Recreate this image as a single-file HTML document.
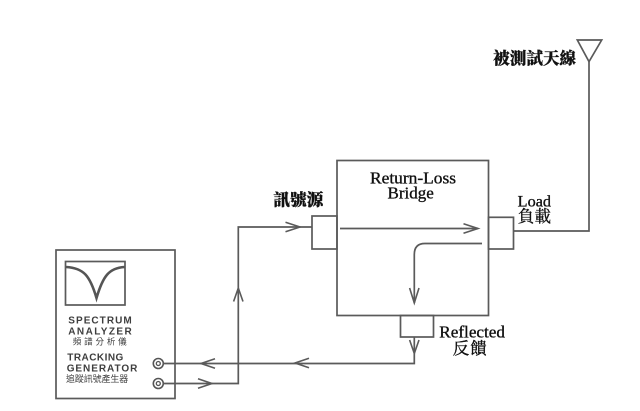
<!DOCTYPE html>
<html>
<head>
<meta charset="utf-8">
<style>
  html, body { margin:0; padding:0; background:#fff; }
  svg { display:block; }
  .ln { stroke:#5a5a5a; stroke-width:1.7; fill:none; }
  .ar { stroke:#5a5a5a; stroke-width:1.6; fill:none; stroke-linejoin:miter; }
  .lab { font-family:"Liberation Sans", sans-serif; font-weight:bold; fill:#3e3e3e; }
  .cjks { font-family:"Liberation Sans","Noto Sans CJK TC", sans-serif; fill:#3e3e3e; }
  .ser { font-family:"Liberation Serif","Noto Serif CJK SC", serif; fill:#111; stroke:#111; stroke-width:0.35; }
  .cjkb { font-family:"Liberation Serif","Noto Serif CJK SC","Noto Sans CJK TC", serif; font-weight:900; fill:#111; stroke:#111; stroke-width:0.3; }
  .cjk { font-family:"Liberation Serif","Noto Serif CJK SC","Noto Sans CJK TC", serif; fill:#111; stroke:#111; stroke-width:0.35; }
</style>
</head>
<body>
<svg width="640" height="411" viewBox="0 0 640 411" xmlns="http://www.w3.org/2000/svg">
  <!-- Spectrum analyzer box -->
  <rect class="ln" x="56" y="250" width="119" height="148.5"/>
  <!-- screen -->
  <rect class="ln" x="65.5" y="261.5" width="59.5" height="43.5"/>
  <path d="M66,267 C84,268 90,276 96.5,298 C103,276 109,268 124.5,267" stroke="#555" stroke-width="2.6" fill="none"/>

  <text class="lab" x="68.3" y="323.5" font-size="10" textLength="63.4" lengthAdjust="spacing">SPECTRUM</text>
  <text class="lab" x="68.3" y="334.5" font-size="10" textLength="63.4" lengthAdjust="spacing">ANALYZER</text>
  <text class="cjks" x="72.7" y="344.5" font-size="8.5" textLength="54" lengthAdjust="spacing">頻譜分析儀</text>
  <text class="lab" x="67.3" y="360.3" font-size="10" textLength="56" lengthAdjust="spacing">TRACKING</text>
  <text class="lab" x="66.7" y="371.3" font-size="10" textLength="70.6" lengthAdjust="spacing">GENERATOR</text>
  <text class="cjks" x="66" y="382" font-size="9" textLength="62.3" lengthAdjust="spacing">追蹤訊號產生器</text>

  <!-- connectors -->
  <circle cx="158.3" cy="363.5" r="5" stroke="#555" stroke-width="1.6" fill="none"/>
  <circle cx="158.3" cy="363.5" r="2" stroke="#555" stroke-width="1.3" fill="none"/>
  <circle cx="158.3" cy="383.5" r="5" stroke="#555" stroke-width="1.6" fill="none"/>
  <circle cx="158.3" cy="383.5" r="2" stroke="#555" stroke-width="1.3" fill="none"/>

  <!-- return wire (top) -->
  <path class="ln" d="M163.3,363.5 H414.3 V337"/>
  <path class="ar" d="M215,358.8 L201,363.5 L215,368.2"/>
  <path class="ar" d="M309,358.3 L295,363 L309,367.7"/>
  <path class="ar" d="M409.6,340 L414.3,353.5 L419,340"/>

  <!-- source wire (bottom) -->
  <path class="ln" d="M163.3,383.5 H238.3 V227 H312"/>
  <path class="ar" d="M198,378.8 L212,383.5 L198,388.2"/>
  <path class="ar" d="M233.6,301.5 L238.3,288 L243,301.5"/>
  <path class="ar" d="M285.5,222.3 L300,227 L285.5,231.7"/>

  <!-- Bridge -->
  <rect class="ln" x="337" y="160.5" width="151.5" height="155"/>
  <rect class="ln" x="312" y="216" width="25" height="33"/>
  <rect class="ln" x="488.5" y="217.3" width="25" height="31.7"/>
  <rect class="ln" x="400.5" y="315.5" width="33" height="21.5"/>

  <!-- internal arrows -->
  <path class="ln" d="M340,228.5 H478"/>
  <path class="ar" d="M463.5,223.8 L478,228.5 L463.5,233.2"/>
  <path class="ln" d="M482,243.5 H425 Q414.3,243.5 414.3,254.5 V303"/>
  <path class="ar" d="M409.6,288 L414.3,303 L419,288"/>

  <!-- antenna -->
  <path class="ln" d="M513.5,231 H589 V61.7"/>
  <path class="ln" d="M577.3,40 H601.7 L589,61.7 Z"/>

  <!-- labels -->
  <text class="ser" x="413" y="183.3" font-size="17" text-anchor="middle" textLength="86" lengthAdjust="spacingAndGlyphs">Return-Loss</text>
  <text class="ser" x="410.7" y="198.3" font-size="17" text-anchor="middle">Bridge</text>

  <text class="cjkb" x="273.3" y="205.5" font-size="16.7" textLength="50" lengthAdjust="spacing">訊號源</text>
  <text class="cjkb" x="493.3" y="64" font-size="16.5" textLength="82.7" lengthAdjust="spacing">被測試天線</text>

  <text class="ser" x="517.7" y="206.7" font-size="16" textLength="33.3" lengthAdjust="spacingAndGlyphs">Load</text>
  <text class="cjk" x="517.7" y="222" font-size="16.5" textLength="33.3" lengthAdjust="spacing">負載</text>

  <text class="ser" x="439.3" y="337.7" font-size="17" textLength="65.7" lengthAdjust="spacingAndGlyphs">Reflected</text>
  <text class="cjk" x="452.7" y="354" font-size="16.5" textLength="34" lengthAdjust="spacing">反饋</text>
</svg>
</body>
</html>
